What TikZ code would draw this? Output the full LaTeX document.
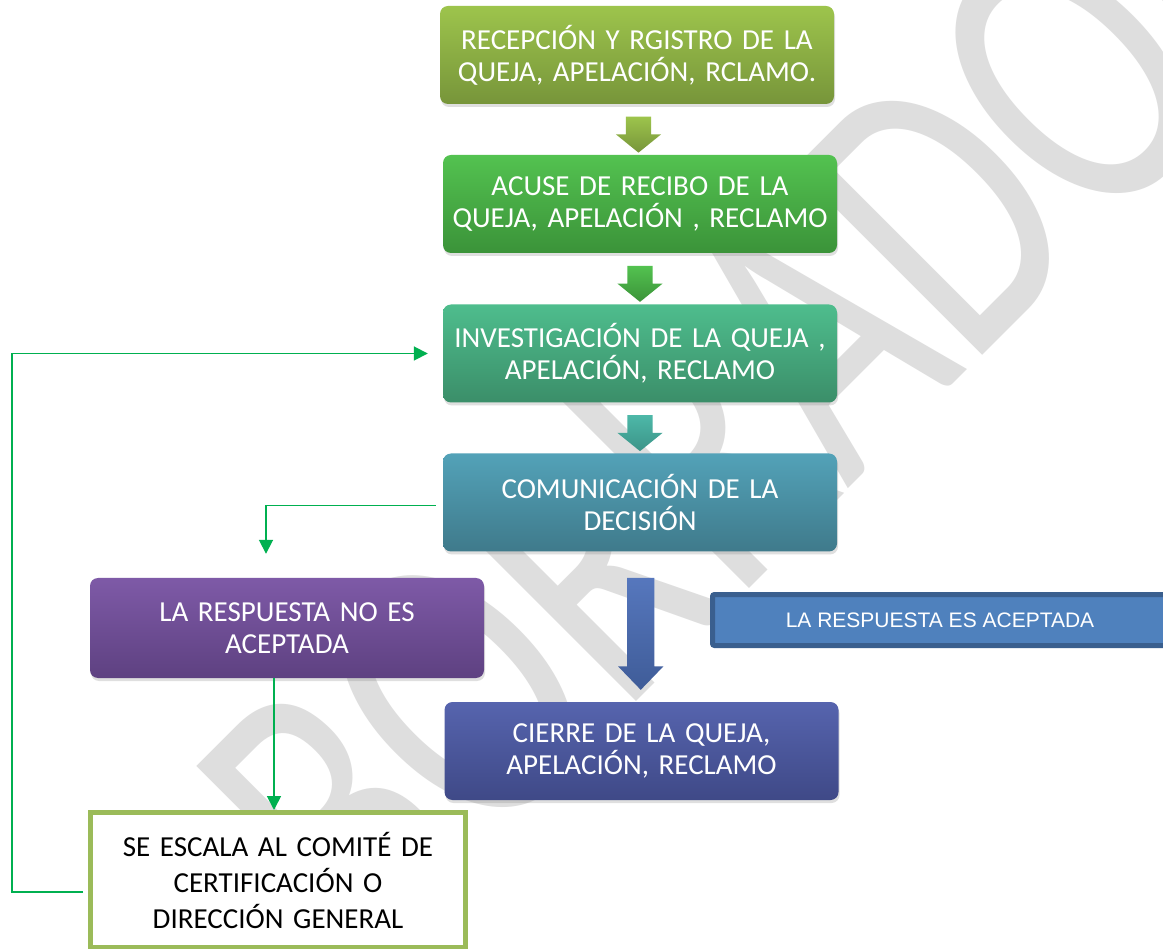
\documentclass[tikz,border=0pt]{standalone}
\usepackage{fontspec}
\setmainfont{Carlito}[WordSpace=0.85]
\newfontfamily\arialfont{Liberation Sans}
\usepackage{tikz}
\usetikzlibrary{arrows.meta,%
                shapes,shadows,calc,positioning}
\definecolor{linegreen}{HTML}{00B050}
\definecolor{marcagray}{HTML}{DEDEDE}
\definecolor{recepA}{HTML}{9DC44C}
\definecolor{recepB}{HTML}{77953A}
\definecolor{acuseA}{HTML}{53C250}
\definecolor{acuseB}{HTML}{3B9339}
\definecolor{invesA}{HTML}{4EBD8D}
\definecolor{invesB}{HTML}{3B8E69}
\definecolor{comunA}{HTML}{53A2B8}
\definecolor{comunB}{HTML}{3F7A8B}
\definecolor{cierreA}{HTML}{5664AE}
\definecolor{cierreB}{HTML}{3F4987}
\definecolor{noacepA}{HTML}{7E5AA7}
\definecolor{noacepB}{HTML}{5E4181}
\definecolor{acepFill}{HTML}{4F81BD}
\definecolor{acepBorde}{HTML}{3A5F8E}
\definecolor{escalaBorde}{HTML}{9BBB59}
\definecolor{flechaA}{HTML}{4DB8A8}
\definecolor{flechaB}{HTML}{3C9488}
\definecolor{azulA}{HTML}{5677BD}
\definecolor{azulB}{HTML}{3F5C98}

\begin{document}
\begin{tikzpicture}[x=1pt,y=-1pt,
  paso/.style={rounded corners=8pt, minimum width=394pt, minimum height=98pt,
    text width=384pt, align=center, text=white, inner sep=0pt,
    font=\fontsize{29}{32}\selectfont,
    drop shadow={opacity=0.25, shadow xshift=1pt, shadow yshift=-3pt}},
  bloque/.style={single arrow, shape border rotate=270, inner sep=12.5pt,
    minimum width=45pt, minimum height=36pt, single arrow head extend=10pt,
    single arrow tip angle=102},
  conn/.style={draw=linegreen, line width=1.8pt,
    -{Triangle[length=14pt,width=14pt]}}]
\path[use as bounding box, fill=white] (0,0) rectangle (1163,949);
\node[text=marcagray, font=\fontsize{295}{295}\selectfont, rotate=45,
  inner sep=0pt] (marca) at (765,385) {\scalebox{1}[1.4]{BORRADOR}};

\node[paso, top color=recepA, bottom color=recepB] (recep) at (637,55)
  {RECEPCIÓN Y RGISTRO DE LA\\ QUEJA, APELACIÓN, RCLAMO.};
\node[paso, top color=acuseA, bottom color=acuseB] (acuse) at (640,204)
  {ACUSE DE RECIBO DE LA\\ QUEJA, APELACIÓN , RECLAMO};
\node[paso, top color=invesA, bottom color=invesB] (inves) at (640,353.5)
  {INVESTIGACIÓN DE LA QUEJA ,\\ APELACIÓN, RECLAMO};
\node[paso, top color=comunA, bottom color=comunB] (comun) at (640,502.5)
  {COMUNICACIÓN DE LA\\ DECISIÓN};
\node[paso, top color=cierreA, bottom color=cierreB] (cierre) at (641.5,751)
  {CIERRE DE LA QUEJA,\\ APELACIÓN, RECLAMO};
\node[paso, minimum height=100pt, top color=noacepA, bottom color=noacepB]
  (noacep) at (287,628) {LA RESPUESTA NO ES\\ ACEPTADA};
\node[draw=acepBorde, fill=acepFill, line width=5pt, rounded corners=2pt,
  minimum width=455pt, minimum height=51pt, text=white,
  font=\arialfont\fontsize{21}{24}\selectfont] (acep) at (940,620)
  {LA RESPUESTA ES ACEPTADA};
\node[draw=escalaBorde, fill=white, line width=5pt, minimum width=375pt,
  minimum height=135pt, text width=370pt, align=center, inner sep=0pt,
  font=\fontsize{29}{36}\selectfont] (escala) at (278,880)
  {SE ESCALA AL COMITÉ DE\\ CERTIFICACIÓN O\\ DIRECCIÓN GENERAL};

\node[bloque, top color=recepA, bottom color=recepB]
  (f1) at ($(recep.south)!0.5!(acuse.north)$) {};
\node[bloque, top color=acuseA, bottom color=acuseB]
  (f2) at ($(acuse.south)!0.5!(inves.north)$) {};
\node[bloque, top color=flechaA, bottom color=flechaB]
  (f3) at ($(inves.south)!0.5!(comun.north)$) {};
\node[bloque, inner sep=13.5pt, minimum height=112pt,
  single arrow head extend=9pt, single arrow tip angle=88,
  top color=azulA, bottom color=azulB]
  (f4) at ($(comun.south)!0.5!(cierre.north)$) {};

\coordinate (retorno) at (12,892);
\draw[conn, shorten <=7pt, shorten >=24pt] ([yshift=-3pt]comun.west)
  -| ([xshift=-21pt]noacep.north);
\draw[conn] ([xshift=-13pt]noacep.south)
  -- ([xshift=-13pt]noacep.south |- escala.north);
\draw[conn, shorten <=5pt, shorten >=15pt] ([yshift=-12pt]escala.west)
  -- (retorno) |- (inves.west);
\end{tikzpicture}
\end{document}
